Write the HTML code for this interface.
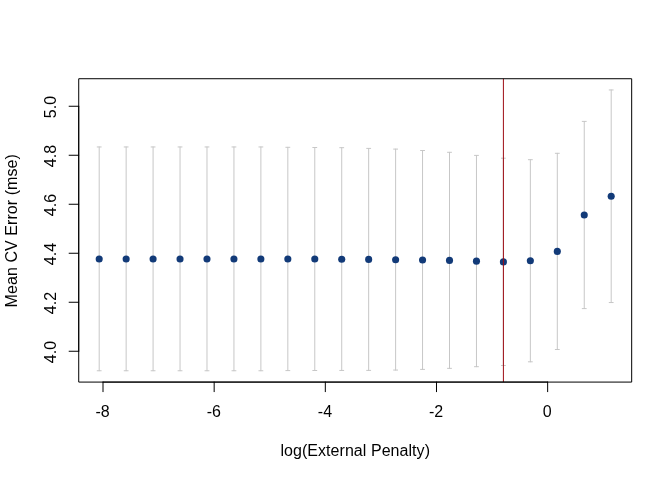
<!DOCTYPE html>
<html><head><meta charset="utf-8"><title>CV plot</title>
<style>
html,body{margin:0;padding:0;background:#fff;}
body{width:672px;height:480px;overflow:hidden;}
svg{display:block;position:absolute;left:0;top:0;}
text{font-family:"Liberation Sans",sans-serif;font-size:16px;fill:#000;}
</style></head><body>
<svg width="672" height="480" viewBox="0 0 672 480">
<rect x="0" y="0" width="672" height="480" fill="#ffffff"/>
<g stroke="#c7c7c7" stroke-width="1" fill="none" stroke-linecap="round">
<path d="M99.20 146.96V370.75M97.20 146.96H101.20M97.20 370.75H101.20"/>
<path d="M126.15 146.96V370.75M124.15 146.96H128.15M124.15 370.75H128.15"/>
<path d="M153.09 146.96V370.75M151.09 146.96H155.09M151.09 370.75H155.09"/>
<path d="M180.04 146.96V370.75M178.04 146.96H182.04M178.04 370.75H182.04"/>
<path d="M206.99 146.96V370.75M204.99 146.96H208.99M204.99 370.75H208.99"/>
<path d="M233.94 146.96V370.75M231.94 146.96H235.94M231.94 370.75H235.94"/>
<path d="M260.88 146.96V370.75M258.88 146.96H262.88M258.88 370.75H262.88"/>
<path d="M287.83 147.30V370.60M285.83 147.30H289.83M285.83 370.60H289.83"/>
<path d="M314.78 147.50V370.50M312.78 147.50H316.78M312.78 370.50H316.78"/>
<path d="M341.72 147.70V370.45M339.72 147.70H343.72M339.72 370.45H343.72"/>
<path d="M368.67 148.40V370.40M366.67 148.40H370.67M366.67 370.40H370.67"/>
<path d="M395.62 149.10V370.05M393.62 149.10H397.62M393.62 370.05H397.62"/>
<path d="M422.56 150.50V369.40M420.56 150.50H424.56M420.56 369.40H424.56"/>
<path d="M449.51 152.30V368.35M447.51 152.30H451.51M447.51 368.35H451.51"/>
<path d="M476.46 155.40V366.70M474.46 155.40H478.46M474.46 366.70H478.46"/>
<path d="M503.40 158.20V365.50M501.40 158.20H505.40M501.40 365.50H505.40"/>
<path d="M530.35 159.70V361.80M528.35 159.70H532.35M528.35 361.80H532.35"/>
<path d="M557.30 153.30V349.50M555.30 153.30H559.30M555.30 349.50H559.30"/>
<path d="M584.25 121.40V308.60M582.25 121.40H586.25M582.25 308.60H586.25"/>
<path d="M611.19 89.96V302.54M609.19 89.96H613.19M609.19 302.54H613.19"/>
</g>
<g fill="#123a78" stroke="none">
<circle cx="99.20" cy="258.95" r="3.55"/>
<circle cx="126.15" cy="258.95" r="3.55"/>
<circle cx="153.09" cy="258.95" r="3.55"/>
<circle cx="180.04" cy="258.95" r="3.55"/>
<circle cx="206.99" cy="258.95" r="3.55"/>
<circle cx="233.94" cy="258.95" r="3.55"/>
<circle cx="260.88" cy="258.95" r="3.55"/>
<circle cx="287.83" cy="258.95" r="3.55"/>
<circle cx="314.78" cy="259.00" r="3.55"/>
<circle cx="341.72" cy="259.20" r="3.55"/>
<circle cx="368.67" cy="259.40" r="3.55"/>
<circle cx="395.62" cy="259.70" r="3.55"/>
<circle cx="422.56" cy="260.00" r="3.55"/>
<circle cx="449.51" cy="260.40" r="3.55"/>
<circle cx="476.46" cy="261.15" r="3.55"/>
<circle cx="503.40" cy="261.90" r="3.55"/>
<circle cx="530.35" cy="260.75" r="3.55"/>
<circle cx="557.30" cy="251.40" r="3.55"/>
<circle cx="584.25" cy="215.00" r="3.55"/>
<circle cx="611.19" cy="196.25" r="3.55"/>
</g>
<line x1="503.40" y1="78.72" x2="503.40" y2="382.08" stroke="#9d0c14" stroke-width="1"/>
<g stroke="#000" stroke-width="1" fill="none" stroke-linecap="round" stroke-linejoin="round">
<path d="M103.00 382.08H547.65"/>
<path d="M103.00 382.08V391.68"/>
<path d="M214.16 382.08V391.68"/>
<path d="M325.32 382.08V391.68"/>
<path d="M436.49 382.08V391.68"/>
<path d="M547.65 382.08V391.68"/>
<path d="M78.72 351.25V106.25"/>
<path d="M78.72 351.25H69.12"/>
<path d="M78.72 302.25H69.12"/>
<path d="M78.72 253.25H69.12"/>
<path d="M78.72 204.25H69.12"/>
<path d="M78.72 155.25H69.12"/>
<path d="M78.72 106.25H69.12"/>
<path d="M78.72 382.08H631.68V78.72H78.72Z" stroke-linecap="butt" stroke-linejoin="miter"/>
</g>
<g opacity="0.999">
<text x="102.65" y="416.64" text-anchor="middle">-8</text>
<text x="213.81" y="416.64" text-anchor="middle">-6</text>
<text x="324.97" y="416.64" text-anchor="middle">-4</text>
<text x="436.14" y="416.64" text-anchor="middle">-2</text>
<text x="547.30" y="416.64" text-anchor="middle">0</text>
<text transform="translate(55.5 352.00) rotate(-90)" text-anchor="middle">4.0</text>
<text transform="translate(55.5 303.00) rotate(-90)" text-anchor="middle">4.2</text>
<text transform="translate(55.5 254.00) rotate(-90)" text-anchor="middle">4.4</text>
<text transform="translate(55.5 205.00) rotate(-90)" text-anchor="middle">4.6</text>
<text transform="translate(55.5 156.00) rotate(-90)" text-anchor="middle">4.8</text>
<text transform="translate(55.5 107.00) rotate(-90)" text-anchor="middle">5.0</text>
<text x="355.25" y="456.1" text-anchor="middle" letter-spacing="0.05">log(External Penalty)</text>
<text transform="translate(16.9 230.75) rotate(-90)" text-anchor="middle" letter-spacing="0.065">Mean CV Error (mse)</text>
</g>
</svg>
</body></html>
